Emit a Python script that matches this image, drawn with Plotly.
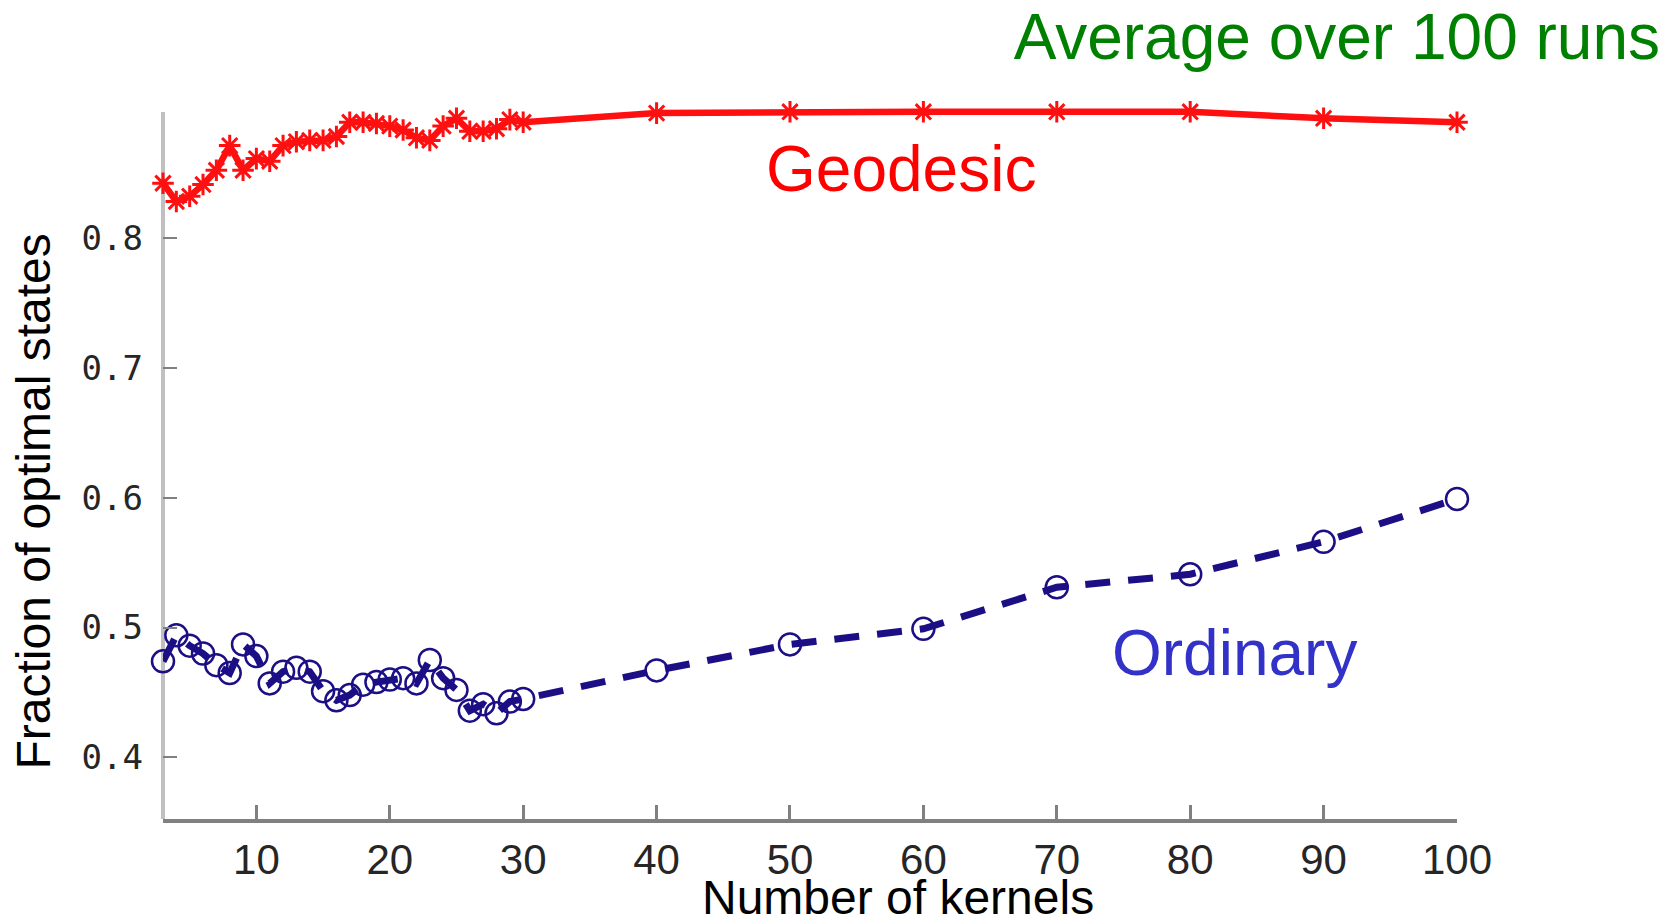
import plotly.graph_objects as go

# Number of kernels (x) and fraction of optimal states for the two methods
kernels = [3, 4, 5, 6, 7, 8, 9, 10, 11, 12, 13, 14, 15, 16, 17, 18, 19, 20,
           21, 22, 23, 24, 25, 26, 27, 28, 29, 30, 40, 50, 60, 70, 80, 90, 100]

geodesic = [0.842, 0.828, 0.832, 0.841, 0.852, 0.871, 0.852, 0.861, 0.859, 0.871,
            0.874, 0.875, 0.875, 0.878, 0.889, 0.889, 0.888, 0.886, 0.883, 0.877,
            0.875, 0.886, 0.892, 0.882, 0.882, 0.884, 0.891, 0.889,
            0.896, 0.897, 0.897, 0.897, 0.897, 0.892, 0.889]

ordinary = [0.474, 0.494, 0.486, 0.480, 0.471, 0.465, 0.487, 0.478, 0.457, 0.466,
            0.469, 0.466, 0.451, 0.444, 0.448, 0.456, 0.458, 0.460, 0.461, 0.457,
            0.475, 0.461, 0.452, 0.436, 0.441, 0.434, 0.443, 0.445,
            0.467, 0.487, 0.499, 0.531, 0.541, 0.566, 0.599]

x_ticks = [10, 20, 30, 40, 50, 60, 70, 80, 90, 100]
y_ticks = [0.4, 0.5, 0.6, 0.7, 0.8]
y_tick_text = ["0.4", "0.5", "0.6", "0.7", "0.8"]

W, H = 1677, 922
# plot area in pixels
L, R, T, B = 163, 1457, 60, 819
PW, PH = R - L, B - T

Y_LO, Y_AXIS_TOP = 0.3526, 0.8968
PX_PER_UNIT = 1299.0
Y_HI = Y_LO + PH / PX_PER_UNIT

RED = "#ff1010"
NAVY = "#1c0f85"
SANS = "Liberation Sans, Arial, sans-serif"


def px_to_paper_x(px):
    return (px - L) / PW


def px_to_paper_y(py):
    return (B - py) / PH


fig = go.Figure()

fig.add_trace(go.Scatter(
    x=kernels, y=geodesic, mode="lines+markers", name="Geodesic",
    line=dict(color=RED, width=6.5),
    marker=dict(symbol="asterisk-open", size=18, line=dict(color=RED, width=3)),
    cliponaxis=False,
))

fig.add_trace(go.Scatter(
    x=kernels, y=ordinary, mode="lines+markers", name="Ordinary",
    line=dict(color=NAVY, width=7, dash="25px,18px"),
    marker=dict(symbol="circle-open", size=22, line=dict(color=NAVY, width=2.5)),
    cliponaxis=False,
))

# left axis line, stopping at the top of the axes box
fig.add_shape(type="line", xref="paper", yref="y", x0=0, x1=0,
              y0=Y_LO, y1=Y_AXIS_TOP, line=dict(color="#c0c0c0", width=4),
              layer="below")

fig.update_layout(
    width=W, height=H,
    margin=dict(l=L, r=W - R, t=T, b=H - B, pad=0),
    paper_bgcolor="white", plot_bgcolor="white",
    showlegend=False,
    title=dict(text="Average over 100 runs", xref="container", yref="container",
               x=1660 / W, xanchor="right", y=1 - 36.6 / H, yanchor="middle",
               font=dict(family=SANS, size=64, color="#008000")),
    xaxis=dict(range=[3, 100], tickvals=x_ticks, ticks="inside", ticklen=14,
               tickwidth=3, tickcolor="#808080", showline=True, linecolor="#808080",
               linewidth=4, showgrid=False, zeroline=False,
               tickfont=dict(family=SANS, size=42, color="#262626"),
               ticklabelstandoff=1),
    yaxis=dict(range=[Y_LO, Y_HI], tickvals=y_ticks, ticktext=y_tick_text,
               ticks="inside", ticklen=14, tickwidth=2, tickcolor="#808080",
               showline=False, showgrid=False, zeroline=False,
               tickfont=dict(family="DejaVu Sans Mono, monospace", size=34,
                             color="#262626"),
               ticklabelstandoff=19),
)

fig.add_annotation(text="Geodesic", x=58.3, y=0.8531, xref="x", yref="y",
                   showarrow=False, xanchor="center", yanchor="middle",
                   font=dict(family=SANS, size=64, color="#ff0000"))
fig.add_annotation(text="Ordinary", x=83.3, y=0.4805, xref="x", yref="y",
                   showarrow=False, xanchor="center", yanchor="middle",
                   font=dict(family=SANS, size=64, color="#3232c8"))

fig.add_annotation(text="Fraction of optimal states", xref="paper", yref="paper",
                   x=px_to_paper_x(32.5), y=px_to_paper_y(502), textangle=-90,
                   showarrow=False, xanchor="center", yanchor="middle",
                   font=dict(family=SANS, size=48, color="black"))
fig.add_annotation(text="Number of kernels", xref="paper", yref="paper",
                   x=px_to_paper_x(898), y=px_to_paper_y(898),
                   showarrow=False, xanchor="center", yanchor="middle",
                   font=dict(family=SANS, size=48, color="black"))

fig.write_html("out.html")
